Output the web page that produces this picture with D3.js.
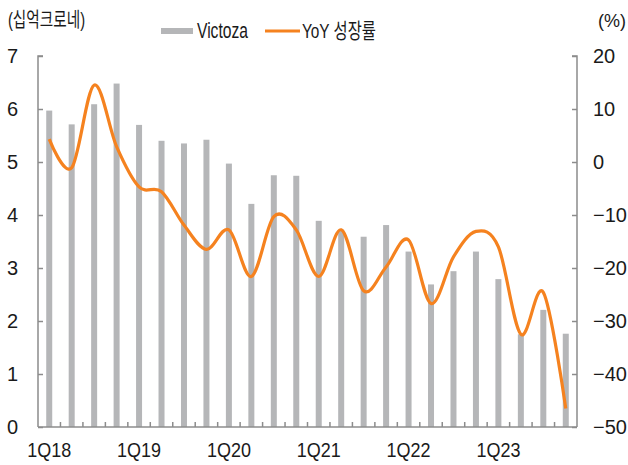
<!DOCTYPE html>
<html>
<head>
<meta charset="utf-8">
<script src="https://d3js.org/d3.v7.min.js"></script>
<style>
    body { margin: 0; background: #fff; }
    text { font-family: "Liberation Sans", Arial, "Noto Sans CJK KR", sans-serif; fill: #1a1a1a; }
</style>
</head>
<body>
<div id="chart"></div>
<script>
// quarters 1Q18 .. 4Q23
const quarters = [
    "1Q18", "2Q18", "3Q18", "4Q18",
    "1Q19", "2Q19", "3Q19", "4Q19",
    "1Q20", "2Q20", "3Q20", "4Q20",
    "1Q21", "2Q21", "3Q21", "4Q21",
    "1Q22", "2Q22", "3Q22", "4Q22",
    "1Q23", "2Q23", "3Q23", "4Q23"
];
// Victoza sales (bn DKK)
const victoza = [
    5.97, 5.71, 6.09, 6.48,
    5.70, 5.40, 5.35, 5.42,
    4.97, 4.21, 4.75, 4.74,
    3.89, 3.72, 3.59, 3.81,
    3.31, 2.69, 2.94, 3.31,
    2.79, 1.75, 2.21, 1.76
];
// YoY growth (%)
const yoy = [
    4.3, -1.1, 14.5, 2.9,
    -4.7, -5.6, -11.9, -16.5,
    -12.8, -21.6, -10.3, -12.8,
    -21.6, -12.8, -24.3, -19.8,
    -14.7, -26.7, -17.9, -13.1,
    -16.0, -32.5, -24.6, -46.5
];
const leftTicks = [0, 1, 2, 3, 4, 5, 6, 7];
const rightTicks = [-50, -40, -30, -20, -10, 0, 10, 20];
const xLabels = ["1Q18", "1Q19", "1Q20", "1Q21", "1Q22", "1Q23"];

const width = 628, height = 465;
const margin = { top: 56, right: 51, bottom: 38, left: 38 };
const axisColor = "#8c8c8c";
const barColor = "#b5b6b8";
const lineColor = "#f5821f";

const svg = d3.select("#chart").append("svg")
    .attr("width", width)
    .attr("height", height);

const x = d3.scaleBand()
    .domain(quarters)
    .range([margin.left, width - margin.right]);

const yL = d3.scaleLinear()
    .domain([0, 7])
    .range([height - margin.bottom, margin.top]);

const yR = d3.scaleLinear()
    .domain([-50, 20])
    .range([height - margin.bottom, margin.top]);

const barW = 6;

// bars
svg.append("g").selectAll("rect")
    .data(victoza)
    .join("rect")
    .attr("x", (d, i) => x(quarters[i]) + x.bandwidth() / 2 - barW / 2)
    .attr("y", d => yL(d))
    .attr("width", barW)
    .attr("height", d => yL(0) - yL(d))
    .attr("fill", barColor);

// left axis
const gL = svg.append("g")
    .attr("transform", `translate(${margin.left},0)`)
    .call(d3.axisRight(yL).tickValues(leftTicks).tickSize(5).tickFormat(""));
gL.select(".domain").attr("stroke", axisColor).attr("stroke-width", 1.5).attr("d", `M5,${yL(7)}H0V${yL(0)}`);
gL.selectAll(".tick line").attr("stroke", axisColor).attr("stroke-width", 1.5);

svg.append("g").selectAll("text")
    .data(leftTicks)
    .join("text")
    .attr("x", 18)
    .attr("y", d => yL(d) + 7)
    .attr("text-anchor", "end")
    .attr("font-size", 20)
    .text(d => d);

// right axis
const gR = svg.append("g")
    .attr("transform", `translate(${width - margin.right},0)`)
    .call(d3.axisLeft(yR).tickValues(rightTicks).tickSize(5).tickFormat(""));
gR.select(".domain").attr("stroke", axisColor).attr("stroke-width", 1.5).attr("d", `M-5,${yR(20)}H0V${yR(-50)}`);
gR.selectAll(".tick line").attr("stroke", axisColor).attr("stroke-width", 1.5);

svg.append("g").selectAll("text")
    .data(rightTicks)
    .join("text")
    .attr("x", 593)
    .attr("y", d => yR(d) + 7)
    .attr("font-size", 20)
    .text(d => d < 0 ? "\u2212" + Math.abs(d) : d);

// bottom axis - ticks at category boundaries
const bottom = svg.append("g");
bottom.append("line")
    .attr("x1", margin.left).attr("x2", width - margin.right)
    .attr("y1", yL(0)).attr("y2", yL(0))
    .attr("stroke", axisColor).attr("stroke-width", 1.5);
bottom.selectAll("line.tk")
    .data(quarters.slice(1))
    .join("line")
    .attr("class", "tk")
    .attr("x1", d => x(d)).attr("x2", d => x(d))
    .attr("y1", yL(0)).attr("y2", yL(0) - 5)
    .attr("stroke", axisColor).attr("stroke-width", 1.5);
bottom.selectAll("text")
    .data(xLabels)
    .join("text")
    .attr("x", d => x(d) + x.bandwidth() / 2)
    .attr("y", 457)
    .attr("text-anchor", "middle")
    .attr("font-size", 20)
    .attr("textLength", 44).attr("lengthAdjust", "spacingAndGlyphs")
    .text(d => d);

// YoY line
const line = d3.line()
    .x((d, i) => x(quarters[i]) + x.bandwidth() / 2)
    .y(d => yR(d))
    .curve(d3.curveCatmullRom.alpha(0));

svg.append("path")
    .datum(yoy)
    .attr("fill", "none")
    .attr("stroke", lineColor)
    .attr("stroke-width", 3.2)
    .attr("d", line);

// unit labels
svg.append("text")
    .attr("x", 8).attr("y", 27)
    .attr("font-size", 20)
    .attr("textLength", 77).attr("lengthAdjust", "spacingAndGlyphs")
    .text("(십억크로네)");
svg.append("text")
    .attr("x", 598).attr("y", 27)
    .attr("font-size", 18)
    .text("(%)");

// legend
const lg = svg.append("g");
lg.append("rect")
    .attr("x", 161).attr("y", 28).attr("width", 32).attr("height", 6)
    .attr("fill", barColor);
lg.append("text")
    .attr("x", 197).attr("y", 38)
    .attr("font-size", 22)
    .attr("textLength", 51).attr("lengthAdjust", "spacingAndGlyphs")
    .text("Victoza");
lg.append("line")
    .attr("x1", 265).attr("x2", 300).attr("y1", 31).attr("y2", 31)
    .attr("stroke", lineColor).attr("stroke-width", 3);
lg.append("text")
    .attr("x", 302).attr("y", 38)
    .attr("font-size", 21)
    .attr("textLength", 74).attr("lengthAdjust", "spacingAndGlyphs")
    .text("YoY 성장률");
</script>
</body>
</html>
